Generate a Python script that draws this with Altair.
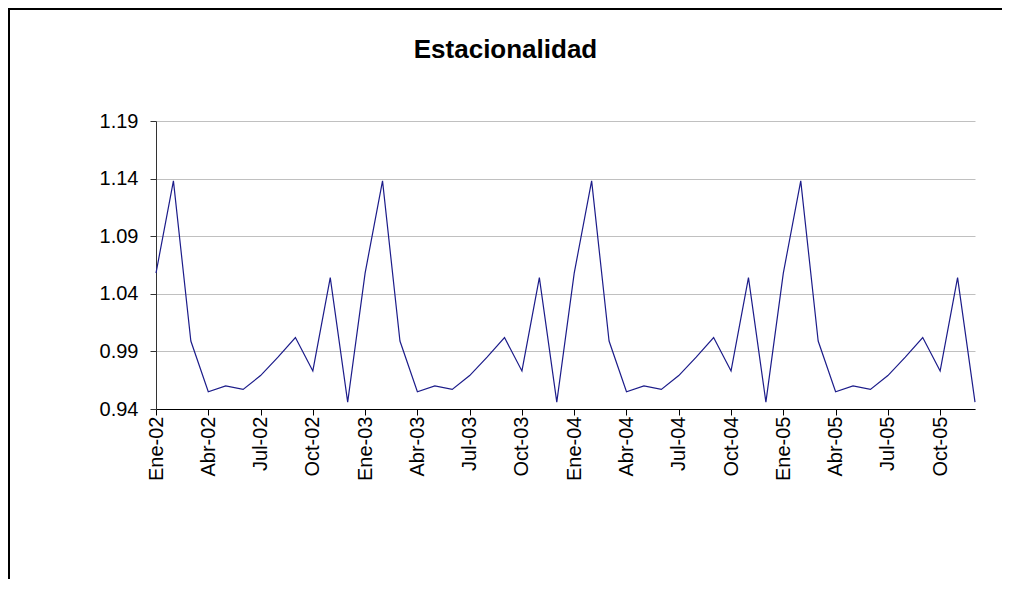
import altair as alt
import pandas as pd

years = ["02", "03", "04", "05"]
month_names = ["Ene", "Feb", "Mar", "Abr", "May", "Jun", "Jul", "Ago", "Sep", "Oct", "Nov", "Dic"]

values = [
    1.058, 1.138, 0.999, 0.955, 0.960, 0.957, 0.969, 0.985, 1.002, 0.973, 1.054, 0.946,
    1.058, 1.138, 0.999, 0.955, 0.960, 0.957, 0.969, 0.985, 1.002, 0.973, 1.054, 0.946,
    1.058, 1.138, 0.999, 0.955, 0.960, 0.957, 0.969, 0.985, 1.002, 0.973, 1.054, 0.946,
    1.058, 1.138, 0.999, 0.955, 0.960, 0.957, 0.969, 0.985, 1.002, 0.973, 1.054, 0.946,
]

y_ticks = [0.94, 0.99, 1.04, 1.09, 1.14, 1.19]

labels = [f"{m}-{y}" for y in years for m in month_names]
df = pd.DataFrame({"idx": list(range(len(values))), "mes": labels, "valor": values})

tick_idx = list(range(0, len(values), 3))
tick_labels = [labels[i] for i in tick_idx]
label_expr = "[" + ",".join(f"'{t}'" for t in tick_labels) + "][round(datum.value/3)]"

FONT = "Liberation Sans"
W, H = 819, 288

line = alt.Chart(df).mark_line(color="#1c1c8a", strokeWidth=1.2).encode(
    x=alt.X(
        "idx:Q",
        scale=alt.Scale(domain=[0, len(values) - 1], nice=False, zero=False),
        axis=alt.Axis(
            values=tick_idx,
            labelExpr=label_expr,
            labelAngle=-90,
            labelAlign="right",
            labelBaseline="middle",
            labelFontSize=20,
            labelFont=FONT,
            labelColor="#000",
            labelPadding=1,
            tickSize=6,
            tickColor="#000",
            domainColor="#000",
            grid=False,
            title=None,
        ),
    ),
    y=alt.Y(
        "valor:Q",
        scale=alt.Scale(domain=[0.94, 1.19], nice=False, zero=False),
        axis=alt.Axis(
            values=y_ticks,
            format=".2f",
            labelFontSize=20,
            labelFont=FONT,
            labelColor="#000",
            labelPadding=12,
            tickSize=6,
            tickColor="#333",
            domainColor="#333",
            grid=True,
            gridColor="#c0c0c0",
            title=None,
        ),
    ),
)

frame_df = pd.DataFrame({"a": [0]})
frame_top = alt.Chart(frame_df).mark_rule(color="#000", strokeWidth=2).encode(
    x=alt.value(-148), x2=alt.value(1000), y=alt.value(-112)
)
frame_left = alt.Chart(frame_df).mark_rule(color="#000", strokeWidth=2).encode(
    x=alt.value(-147), y=alt.value(-113), y2=alt.value(600)
)

chart = alt.layer(frame_top, frame_left, line).properties(
    width=W,
    height=H,
    title=alt.TitleParams(
        "Estacionalidad",
        font=FONT,
        fontSize=26,
        fontWeight="bold",
        color="#000",
        anchor="middle",
        frame="group",
        dx=-60,
        dy=64,
        offset=8,
    ),
    autosize=alt.AutoSizeParams(type="none"),
    padding={"left": 148, "top": 113, "right": 27, "bottom": 170},
).configure_view(stroke=None)

chart.save("out.html", embed_options={"renderer": "svg", "actions": False})
